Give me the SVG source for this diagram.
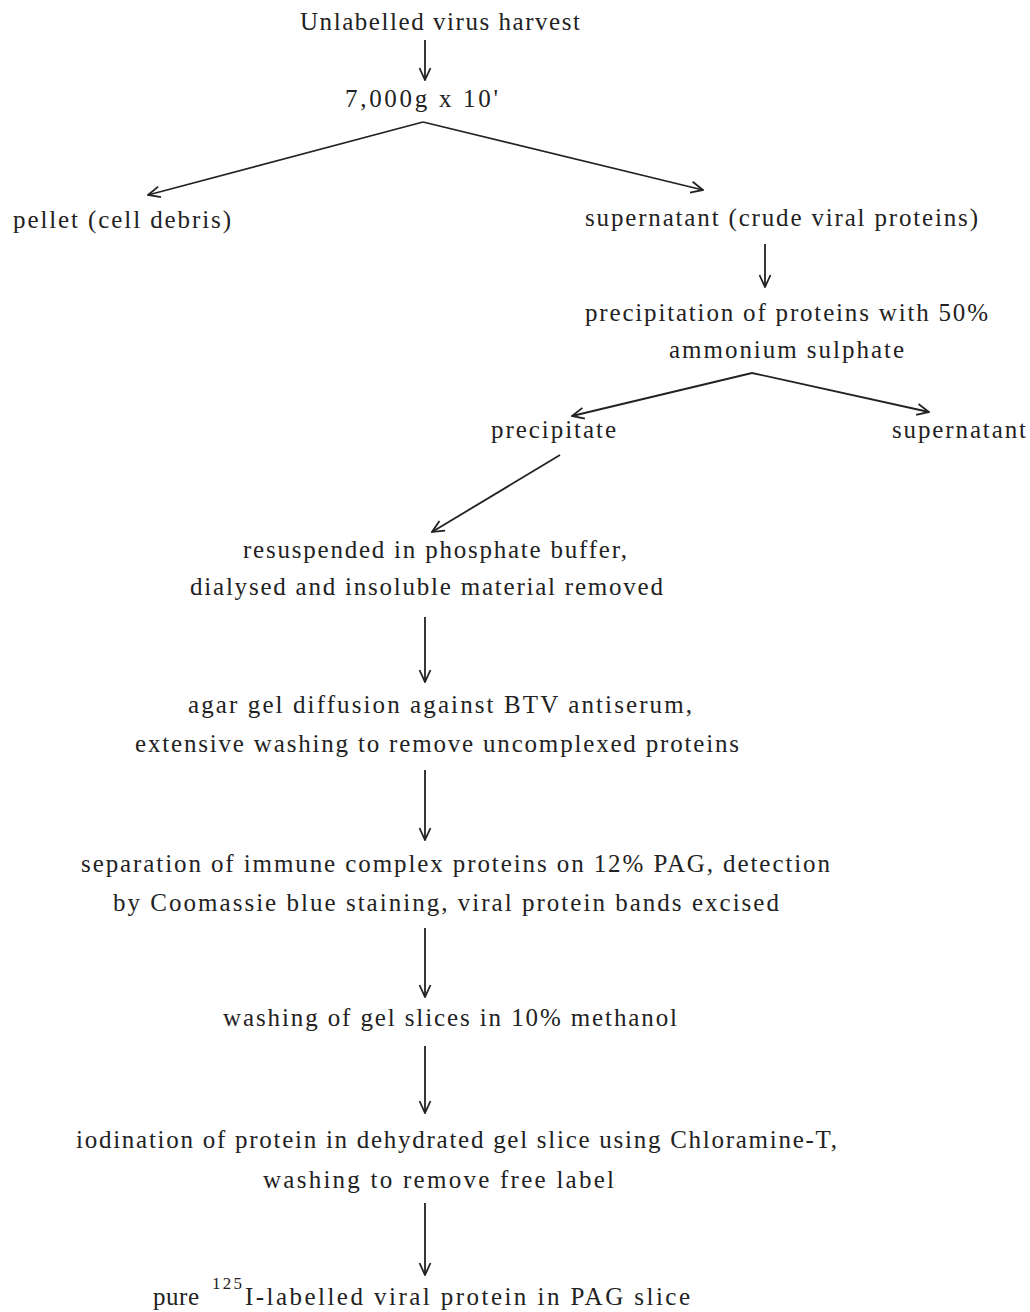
<svg xmlns="http://www.w3.org/2000/svg" width="1030" height="1312" viewBox="0 0 1030 1312">
<defs>
<style>
text{font-family:"Liberation Serif","Times New Roman",serif;font-size:25px;fill:#222;}
.sup{font-size:17px;}
.c{stroke:#222;stroke-width:1.8;fill:none;marker-end:url(#ah);}
</style>
<marker id="ah" viewBox="0 0 14 14" refX="13" refY="7" markerWidth="14" markerHeight="14" markerUnits="userSpaceOnUse" orient="auto">
<path d="M1,1.5 L13,7 L1,12.5" fill="none" stroke="#222" stroke-width="1.8"/>
</marker>
</defs>
<rect width="1030" height="1312" fill="#fff"/>
<g id="connectors">
<line class="c" x1="425" y1="40" x2="425" y2="80"/>
<line class="c" x1="423" y1="122" x2="148" y2="195"/>
<line class="c" x1="423" y1="122" x2="703" y2="190"/>
<line class="c" x1="765" y1="244" x2="765" y2="287"/>
<line class="c" x1="752" y1="373" x2="572" y2="416"/>
<line class="c" x1="752" y1="373" x2="929" y2="412"/>
<line class="c" x1="560" y1="455" x2="432" y2="532"/>
<line class="c" x1="425" y1="617" x2="425" y2="682"/>
<line class="c" x1="425" y1="770" x2="425" y2="840"/>
<line class="c" x1="425" y1="928" x2="425" y2="997"/>
<line class="c" x1="425" y1="1046" x2="425" y2="1113"/>
<line class="c" x1="425" y1="1203" x2="425" y2="1275"/>
</g>
<g id="n-harvest"><text x="300" y="30" textLength="280" lengthAdjust="spacing">Unlabelled virus harvest</text></g>
<g id="n-centrifuge"><text x="345" y="107" textLength="153" lengthAdjust="spacing">7,000g x 10'</text></g>
<g id="n-pellet"><text x="13" y="228" textLength="218" lengthAdjust="spacing">pellet (cell debris)</text></g>
<g id="n-supernatant1"><text x="585" y="226" textLength="393" lengthAdjust="spacing">supernatant (crude viral proteins)</text></g>
<g id="n-precipitation">
<text x="585" y="321" textLength="403" lengthAdjust="spacing">precipitation of proteins with 50%</text>
<text x="669" y="358" textLength="235" lengthAdjust="spacing">ammonium sulphate</text>
</g>
<g id="n-precipitate"><text x="491" y="438" textLength="125" lengthAdjust="spacing">precipitate</text></g>
<g id="n-supernatant2"><text x="892" y="438" textLength="134" lengthAdjust="spacing">supernatant</text></g>
<g id="n-resuspended">
<text x="243" y="558" textLength="384" lengthAdjust="spacing">resuspended in phosphate buffer,</text>
<text x="190" y="595" textLength="473" lengthAdjust="spacing">dialysed and insoluble material removed</text>
</g>
<g id="n-agar">
<text x="188" y="713" textLength="504" lengthAdjust="spacing">agar gel diffusion against BTV antiserum,</text>
<text x="135" y="752" textLength="604" lengthAdjust="spacing">extensive washing to remove uncomplexed proteins</text>
</g>
<g id="n-separation">
<text x="81" y="872" textLength="749" lengthAdjust="spacing">separation of immune complex proteins on 12% PAG, detection</text>
<text x="113" y="911" textLength="666" lengthAdjust="spacing">by Coomassie blue staining, viral protein bands excised</text>
</g>
<g id="n-washing"><text x="223" y="1026" textLength="454" lengthAdjust="spacing">washing of gel slices in 10% methanol</text></g>
<g id="n-iodination">
<text x="76" y="1148" textLength="761" lengthAdjust="spacing">iodination of protein in dehydrated gel slice using Chloramine-T,</text>
<text x="263" y="1188" textLength="351" lengthAdjust="spacing">washing to remove free label</text>
</g>
<g id="n-pure">
<text x="153" y="1305" textLength="46" lengthAdjust="spacing">pure</text>
<text class="sup" x="212" y="1289" textLength="30" lengthAdjust="spacing">125</text>
<text x="245" y="1305" textLength="445" lengthAdjust="spacing">I-labelled viral protein in PAG slice</text>
</g>
</svg>
